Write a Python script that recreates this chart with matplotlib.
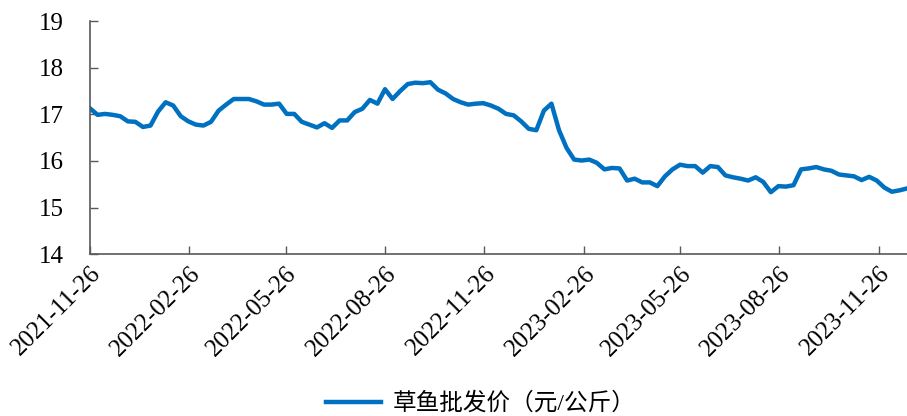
import numpy as np
import pandas as pd
import matplotlib
matplotlib.use("Agg")
import matplotlib.pyplot as plt
import matplotlib.dates as mdates

plt.rcParams['font.family'] = ['Liberation Serif', 'Noto Sans CJK SC']

# weekly grass carp wholesale price, 元/公斤
start_date = '2021-11-26'
prices = [
    17.13, 16.99, 17.01, 16.99, 16.96, 16.85, 16.84, 16.73, 16.76, 17.06,
    17.26, 17.19, 16.96, 16.85, 16.78, 16.76, 16.84, 17.08, 17.21, 17.33,
    17.33, 17.33, 17.28, 17.21, 17.21, 17.23, 17.01, 17.01, 16.84, 16.78,
    16.72, 16.81, 16.71, 16.87, 16.87, 17.05, 17.12, 17.31, 17.23, 17.54,
    17.33, 17.50, 17.65, 17.68, 17.67, 17.69, 17.53, 17.45, 17.33, 17.26,
    17.21, 17.23, 17.24, 17.19, 17.12, 17.01, 16.98, 16.85, 16.69, 16.66,
    17.08, 17.23, 16.66, 16.28, 16.03, 16.01, 16.03, 15.96, 15.82, 15.85,
    15.84, 15.58, 15.62, 15.54, 15.54, 15.46, 15.67, 15.82, 15.92, 15.89,
    15.89, 15.75, 15.89, 15.87, 15.69, 15.65, 15.62, 15.58, 15.65, 15.55,
    15.33, 15.46, 15.45, 15.48, 15.82, 15.84, 15.87, 15.82, 15.79, 15.71,
    15.69, 15.67, 15.59, 15.66, 15.58, 15.43, 15.34, 15.37, 15.41,
]
tick_labels = ['2021-11-26', '2022-02-26', '2022-05-26', '2022-08-26', '2022-11-26',
               '2023-02-26', '2023-05-26', '2023-08-26', '2023-11-26']
y_ticks = [14, 15, 16, 17, 18, 19]

dates = pd.date_range(start=start_date, periods=len(prices), freq='7D')

fig = plt.figure(figsize=(9.07, 4.16), dpi=100)
ax = fig.add_axes([0.0992, 0.389, 0.9008, 0.5601])

ax.plot(dates, prices, color='#0070C0', lw=3.2, label='草鱼批发价（元/公斤）')

ax.set_ylim(14, 19)
ax.set_yticks(y_ticks)
ax.set_xlim(dates[0], dates[-1])
ticks = pd.to_datetime(tick_labels)
ax.set_xticks(ticks)
ax.set_xticklabels(tick_labels, rotation=45, ha='right', rotation_mode='anchor')

for s in ['top', 'right']:
    ax.spines[s].set_visible(False)
for s in ['left', 'bottom']:
    ax.spines[s].set_color('#595959')
    ax.spines[s].set_linewidth(1.2)
ax.tick_params(axis='both', direction='in', length=6, color='#595959', labelsize=18, width=1)
ax.tick_params(axis='y', pad=19)
ax.tick_params(axis='x', pad=6)

fig.legend(loc='center', bbox_to_anchor=(0.53, 0.03), frameon=False, fontsize=17,
           handlelength=2.3, handletextpad=0.5)

fig.savefig('out.png', dpi=100)
